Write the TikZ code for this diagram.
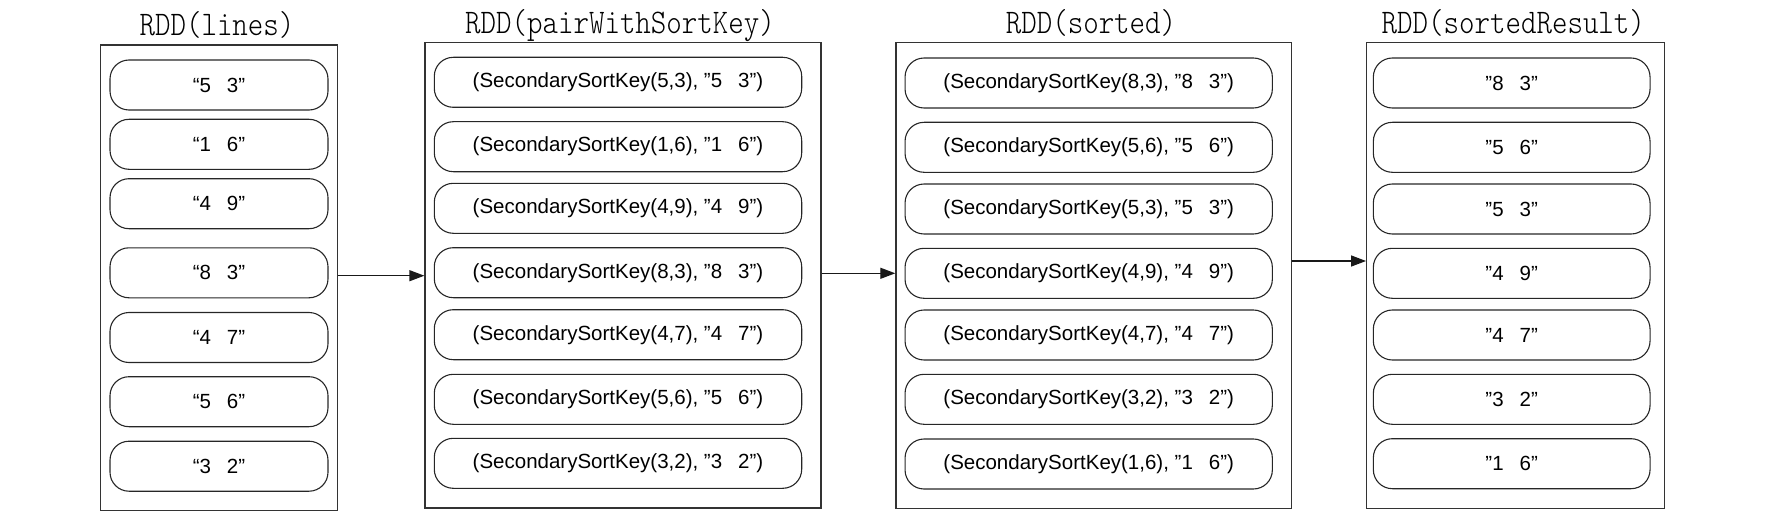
\documentclass[tikz,border=0pt]{standalone}
\usepackage{fontspec}
\setmainfont{Liberation Sans}
\newfontfamily\ttllight{lmmonolt10-regular.otf}
\usepackage{graphicx}
\usetikzlibrary{arrows.meta}
\newcommand\skt[2]{(SecondarySortKey(#1,#2), ”#1\hspace{16pt}#2”)}
\newcommand\qa[2]{“#1\hspace{16pt}#2”}
\newcommand\qb[2]{”#1\hspace{16pt}#2”}
\begin{document}
\begin{tikzpicture}[x=1pt,y=-1pt,
  rddbox/.style={draw=black!80, line width=1.3pt, inner sep=0pt, minimum height=465.5pt},
  pill/.style={draw=black!85, line width=1.1pt, rounded corners=19pt, minimum height=50pt, inner sep=0pt, font=\fontsize{20.5}{22}\selectfont},
  ttl/.style={anchor=base, inner sep=0pt, font=\fontsize{29.5}{30}\ttllight},
  arr/.style={-{Triangle[length=15pt,width=11pt]}, line width=1.3pt, draw=black!90}]
\useasboundingbox (0,0) rectangle (1772,524);
% boxes
\node[rddbox, minimum width=237pt] (b1) at (219.2,277.8) {};
\node[rddbox, minimum width=396pt] (b2) at (623,275.2) {};
\node[rddbox, minimum width=395.7pt] (b3) at (1093.8,275.5) {};
\node[rddbox, minimum width=297.6pt] (b4) at (1515.5,275.5) {};
% titles
\node[ttl] (t1) at (217,35.5) {\scalebox{1}[1.17]{RDD(lines)}};
\node[ttl] (t2) at (620,33.3) {\scalebox{1}[1.17]{RDD(pairWithSortKey)}};
\node[ttl] (t3) at (1091,33.3) {\scalebox{1}[1.17]{RDD(sorted)}};
\node[ttl] (t4) at (1513.3,33.3) {\scalebox{1}[1.17]{RDD(sortedResult)}};
% pills of box 1
\foreach \y/\a/\b [count=\i] in {85/5/3,144.3/1/6,203.7/4/9,272.8/8/3,337.5/4/7,401.7/5/6,466.2/3/2}
  \node[pill, minimum width=218pt] (p1\i) at (219,\y) {\qa{\a}{\b}};
% pills of box 2
\foreach \y/\a/\b [count=\i] in {82.3/5/3,146.7/1/6,208.3/4/9,272.7/8/3,334.7/4/7,399.3/5/6,463.3/3/2}
  \node[pill, minimum width=367.4pt] (p2\i) at (618,\y) {\skt{\a}{\b}};
% pills of box 3
\foreach \y/\a/\b [count=\i] in {83/8/3,147.3/5/6,209/5/3,273.3/4/9,335/4/7,399.3/3/2,464/1/6}
  \node[pill, minimum width=367.3pt] (p3\i) at (1088.7,\y) {\skt{\a}{\b}};
% pills of box 4
\foreach \y/\a/\b [count=\i] in {83/8/3,147.3/5/6,209/5/3,273.3/4/9,335/4/7,399.3/3/2,463.7/1/6}
  \node[pill, minimum width=276.7pt] (p4\i) at (1511.7,\y) {\qb{\a}{\b}};
% arrows
\draw[arr] (b1.east |- 0,275.7) -- (b2.west |- 0,275.7);
\draw[arr] (b2.east |- 0,273.3) -- (b3.west |- 0,273.3);
\draw[arr] (b3.east |- 0,261) -- (b4.west |- 0,261);
\end{tikzpicture}
\end{document}
